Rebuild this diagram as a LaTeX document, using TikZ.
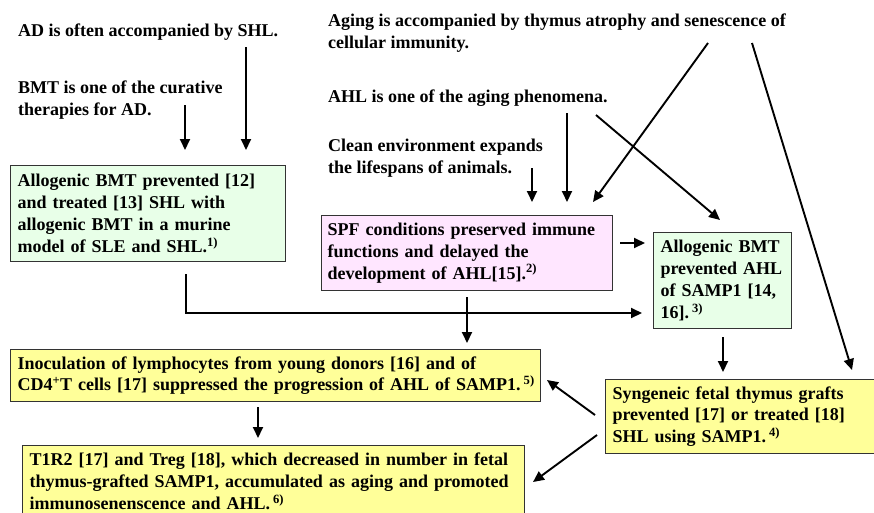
\documentclass[tikz,border=0pt]{standalone}
\usepackage{fontspec}
\setmainfont{Liberation Serif}
\usetikzlibrary{arrows.meta}
\definecolor{gfill}{HTML}{E8FFE8}
\definecolor{pfill}{HTML}{FFE6FF}
\definecolor{yfill}{HTML}{FFFF99}
\definecolor{bord}{HTML}{333333}
\newcommand{\sps}[1]{\textsuperscript{#1}}
\tikzset{
  txt/.style={font=\fontsize{18}{21.8}\selectfont\bfseries, inner sep=0pt, align=left, anchor=base west},
  boxn/.style={font=\fontsize{18}{21.8}\selectfont\bfseries, draw=bord, line width=1.1pt, anchor=north west, inner xsep=7pt, inner ysep=0pt, align=left},
  arr/.style={line width=1.9pt, -{Triangle[length=11pt,width=10pt]}},
  ln/.style={line width=1.9pt}
}
\begin{document}
\begin{tikzpicture}[x=1pt,y=-1pt]
\useasboundingbox (0,0) rectangle (874,512);
% free texts (multi-line nodes are anchored at the baseline of their last line)
\node[txt] (ad) at (18,36.5) {AD is often accompanied by SHL.};
\node[txt] (bmt) at (18,115) {BMT is one of the curative\\therapies for AD.};
\node[txt] (aging) at (328,48) {Aging is accompanied by thymus atrophy and senescence of\\cellular immunity.};
\node[txt] (ahl) at (328,102) {AHL is one of the aging phenomena.};
\node[txt] (clean) at (328,173) {Clean environment expands\\the lifespans of animals.};
% boxes
\node[boxn, fill=gfill, text width=261pt, minimum width=275pt, minimum height=96pt] (g1) at (10,165)
  {Allogenic BMT prevented [12]\\and treated [13] SHL with\\allogenic BMT in a murine\\model of SLE and SHL.\sps{1)}};
\node[boxn, fill=pfill, inner xsep=6pt, text width=279pt, minimum width=291pt, minimum height=75pt] (pink) at (321,215)
  {SPF conditions preserved immune\\functions and delayed the\\development of AHL[15].\sps{2)}};
\node[boxn, fill=gfill, text width=124pt, minimum width=138pt, minimum height=96pt] (g2) at (653,232)
  {Allogenic BMT\\prevented AHL\\of SAMP1 [14,\\16].\,\sps{3)}};
\node[boxn, fill=yfill, text width=516pt, minimum width=530pt, minimum height=52pt] (y1) at (10,349)
  {Inoculation of lymphocytes from young donors [16] and of\\\mbox{CD4\sps{+}T cells [17] suppressed the progression of AHL of SAMP1.\,\sps{5)}}};
\node[boxn, fill=yfill, text width=276pt, minimum width=290pt, minimum height=74pt] (syn) at (605,379)
  {Syngeneic fetal thymus grafts\\prevented [17] or treated [18]\\SHL using SAMP1.\,\sps{4)}};
\node[boxn, fill=yfill, text width=488pt, minimum width=502pt, minimum height=72pt] (y3) at (22,445)
  {T1R2 [17] and Treg [18], which decreased in number in fetal\\thymus-grafted SAMP1, accumulated as aging and promoted\\immunosenenscence and AHL.\,\sps{6)}};
% connector end points
\coordinate (ad-o) at (246,47);
\coordinate (bmt-o) at (185,105);
\coordinate (g1-i) at (185,150);
\coordinate (g1-i2) at (246,150);
\coordinate (clean-o) at (532,168);
\coordinate (ahl-o) at (567,113);
\coordinate (ahl-o2) at (596,115);
\coordinate (aging-o) at (708,43);
\coordinate (aging-o2) at (752,43);
\coordinate (pink-i) at (593,202);
\coordinate (g2-i) at (720,220);
\coordinate (syn-i) at (852,370);
\coordinate (pink-o) at (620,243);
\coordinate (g2-i2) at (645,243);
\coordinate (g1-o) at (186,274);
\coordinate (g2-i3) at (642,313);
\coordinate (pink-o2) at (467,297);
\coordinate (y1-i) at (467,343);
\coordinate (g2-o) at (723,337);
\coordinate (syn-i2) at (723,372);
\coordinate (y1-o) at (258,407);
\coordinate (y3-i) at (258,438);
\coordinate (syn-o) at (595,415);
\coordinate (y1-i2) at (547,380);
\coordinate (syn-o2) at (597,435);
\coordinate (y3-i2) at (533,482);
% connectors
\draw[arr] (ad-o) -- (g1-i2);
\draw[arr] (bmt-o) -- (g1-i);
\draw[arr] (clean-o) -- (clean-o |- pink-i);
\draw[arr] (ahl-o) -- (ahl-o |- pink-i);
\draw[arr] (aging-o) -- (pink-i);
\draw[arr] (ahl-o2) -- (g2-i);
\draw[arr] (aging-o2) -- (syn-i);
\draw[arr] (pink-o) -- (g2-i2);
\draw[arr] (g1-o) |- (g2-i3);
\draw[arr] (pink-o2) -- (y1-i);
\draw[arr] (g2-o) -- (syn-i2);
\draw[arr] (y1-o) -- (y3-i);
\draw[arr] (syn-o) -- (y1-i2);
\draw[arr] (syn-o2) -- (y3-i2);
\end{tikzpicture}
\end{document}
